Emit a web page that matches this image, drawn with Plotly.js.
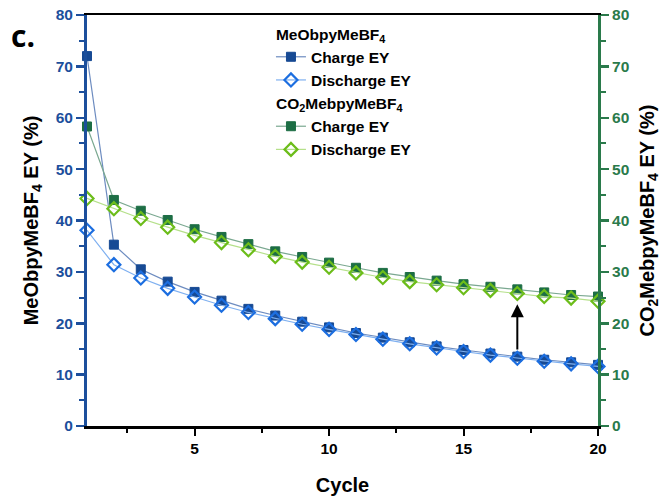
<!DOCTYPE html>
<html>
<head>
<meta charset="utf-8">
<script src="https://cdn.plot.ly/plotly-3.0.1.min.js"></script>
<style>html,body{margin:0;padding:0;background:#fff;}#chart{width:667px;height:496px;}</style>
</head>
<body>
<div id="chart"></div>
<script>
const cycles = [1,2,3,4,5,6,7,8,9,10,11,12,13,14,15,16,17,18,19,20];
const meCharge    = [72.0, 35.3, 30.5, 28.1, 26.1, 24.4, 22.8, 21.5, 20.3, 19.2, 18.1, 17.2, 16.3, 15.5, 14.8, 14.1, 13.5, 12.9, 12.4, 11.9];
const meDischarge = [38.1, 31.4, 28.8, 26.8, 25.1, 23.5, 22.1, 20.9, 19.8, 18.8, 17.8, 16.9, 16.0, 15.2, 14.5, 13.8, 13.2, 12.6, 12.1, 11.6];
const co2Charge    = [58.3, 44.0, 41.9, 40.1, 38.3, 36.8, 35.4, 34.0, 32.9, 31.8, 30.8, 29.8, 29.0, 28.3, 27.6, 27.1, 26.6, 26.0, 25.5, 25.2];
const co2Discharge = [44.3, 42.3, 40.4, 38.7, 37.1, 35.7, 34.3, 33.0, 31.9, 30.9, 29.8, 28.9, 28.1, 27.5, 26.9, 26.4, 25.8, 25.2, 24.9, 24.3];
const xTicks = [5, 10, 15, 20];
const arrowCycle = 17, arrowFrom = 14.6, arrowTo = 23.7;

const FONT = "Liberation Sans, Arial, sans-serif";
const BLUE = "#1c4f9c", GREEN = "#2a7a4b";

const traces = [
  {x: cycles, y: meCharge, name: "Charge EY", legendgroup: "me",
   legendgrouptitle: {text: "MeObpyMeBF<sub>4</sub>", font: {family: FONT, size: 15.5, weight: "bold", color: "#000"}},
   mode: "lines+markers", cliponaxis: false,
   line: {color: "#6d8cc0", width: 1.2},
   marker: {symbol: "square", size: 9, color: "#174a94", line: {color: "#174a94", width: 1}}},
  {x: cycles, y: meDischarge, name: "Discharge EY", legendgroup: "me",
   mode: "lines+markers", cliponaxis: false,
   line: {color: "#7fb0f0", width: 1.2},
   marker: {symbol: "diamond-open", size: 10, color: "#1c6ee0", line: {color: "#1c6ee0", width: 2.2}}},
  {x: cycles, y: co2Charge, name: "Charge EY", legendgroup: "co2", yaxis: "y2",
   legendgrouptitle: {text: "CO<sub>2</sub>MebpyMeBF<sub>4</sub>", font: {family: FONT, size: 15.5, weight: "bold", color: "#000"}},
   mode: "lines+markers", cliponaxis: false,
   line: {color: "#7aa890", width: 1.2},
   marker: {symbol: "square", size: 9, color: "#1d6e45", line: {color: "#1d6e45", width: 1}}},
  {x: cycles, y: co2Discharge, name: "Discharge EY", legendgroup: "co2", yaxis: "y2",
   mode: "lines+markers", cliponaxis: false,
   line: {color: "#b5e08a", width: 1.2},
   marker: {symbol: "diamond-open", size: 10, color: "#6cbd1a", line: {color: "#6cbd1a", width: 2.2}}}
];

const layout = {
  width: 667, height: 496,
  margin: {l: 87, r: 69, t: 15, b: 70},
  paper_bgcolor: "#fff", plot_bgcolor: "#fff",
  font: {family: FONT, size: 15, color: "#000", weight: "bold"},
  showlegend: true,
  legend: {x: 0.36, y: 0.995, xanchor: "left", yanchor: "top", bgcolor: "rgba(0,0,0,0)",
           traceorder: "grouped", tracegroupgap: 0,
           font: {family: FONT, size: 15.5, weight: "bold", color: "#000"}},
  xaxis: {range: [1, 20], tickvals: xTicks, ticks: "outside", ticklen: 7, tickwidth: 2, tickcolor: "#000",
          showline: true, linecolor: "#000", linewidth: 2.5, mirror: true, showgrid: false, zeroline: false,
          tickfont: {family: FONT, size: 15.5, weight: "bold", color: "#000"},
          minor: {tickvals: [2.5, 7.5, 12.5, 17.5], ticks: "outside", ticklen: 4, tickwidth: 2, tickcolor: "#000", showgrid: false},
          title: {text: "Cycle", font: {family: FONT, size: 20, weight: "bold", color: "#000"}, standoff: 22}},
  yaxis: {range: [0, 80], dtick: 10, ticks: "outside", ticklen: 8, tickwidth: 2.5, tickcolor: BLUE,
          showline: true, linecolor: BLUE, linewidth: 3, showgrid: false, zeroline: false,
          tickfont: {family: FONT, size: 15.5, weight: "bold", color: BLUE},
          minor: {dtick: 5, ticks: "outside", ticklen: 5, tickwidth: 2, tickcolor: BLUE, showgrid: false},
          title: {text: "MeObpyMeBF<sub>4</sub> EY (%)", font: {family: FONT, size: 20, weight: "bold", color: "#000"}, standoff: 12}},
  yaxis2: {range: [0, 80], dtick: 10, overlaying: "y", side: "right", ticks: "outside", ticklen: 8, tickwidth: 2.5, tickcolor: GREEN,
          showline: true, linecolor: GREEN, linewidth: 3, showgrid: false, zeroline: false,
          tickfont: {family: FONT, size: 15.5, weight: "bold", color: GREEN},
          minor: {dtick: 5, ticks: "outside", ticklen: 5, tickwidth: 2, tickcolor: GREEN, showgrid: false},
          title: {text: "CO<sub>2</sub>MebpyMeBF<sub>4</sub> EY (%)", font: {family: FONT, size: 20, weight: "bold", color: "#000"}, standoff: 12}},
  annotations: [
    {x: arrowCycle, y: arrowTo, ax: arrowCycle, ay: arrowFrom, xref: "x", yref: "y", axref: "x", ayref: "y",
     showarrow: true, arrowhead: 2, arrowsize: 1.3, arrowwidth: 2, arrowcolor: "#000", text: ""},
    {text: "c.", xref: "paper", yref: "paper", x: -0.152, y: 0.95, xanchor: "left", yanchor: "middle", showarrow: false,
     font: {family: "Open Sans, sans-serif", size: 30, weight: "bold", color: "#000"}}
  ]
};

Plotly.newPlot("chart", traces, layout, {displayModeBar: false, staticPlot: true});
</script>
</body>
</html>
